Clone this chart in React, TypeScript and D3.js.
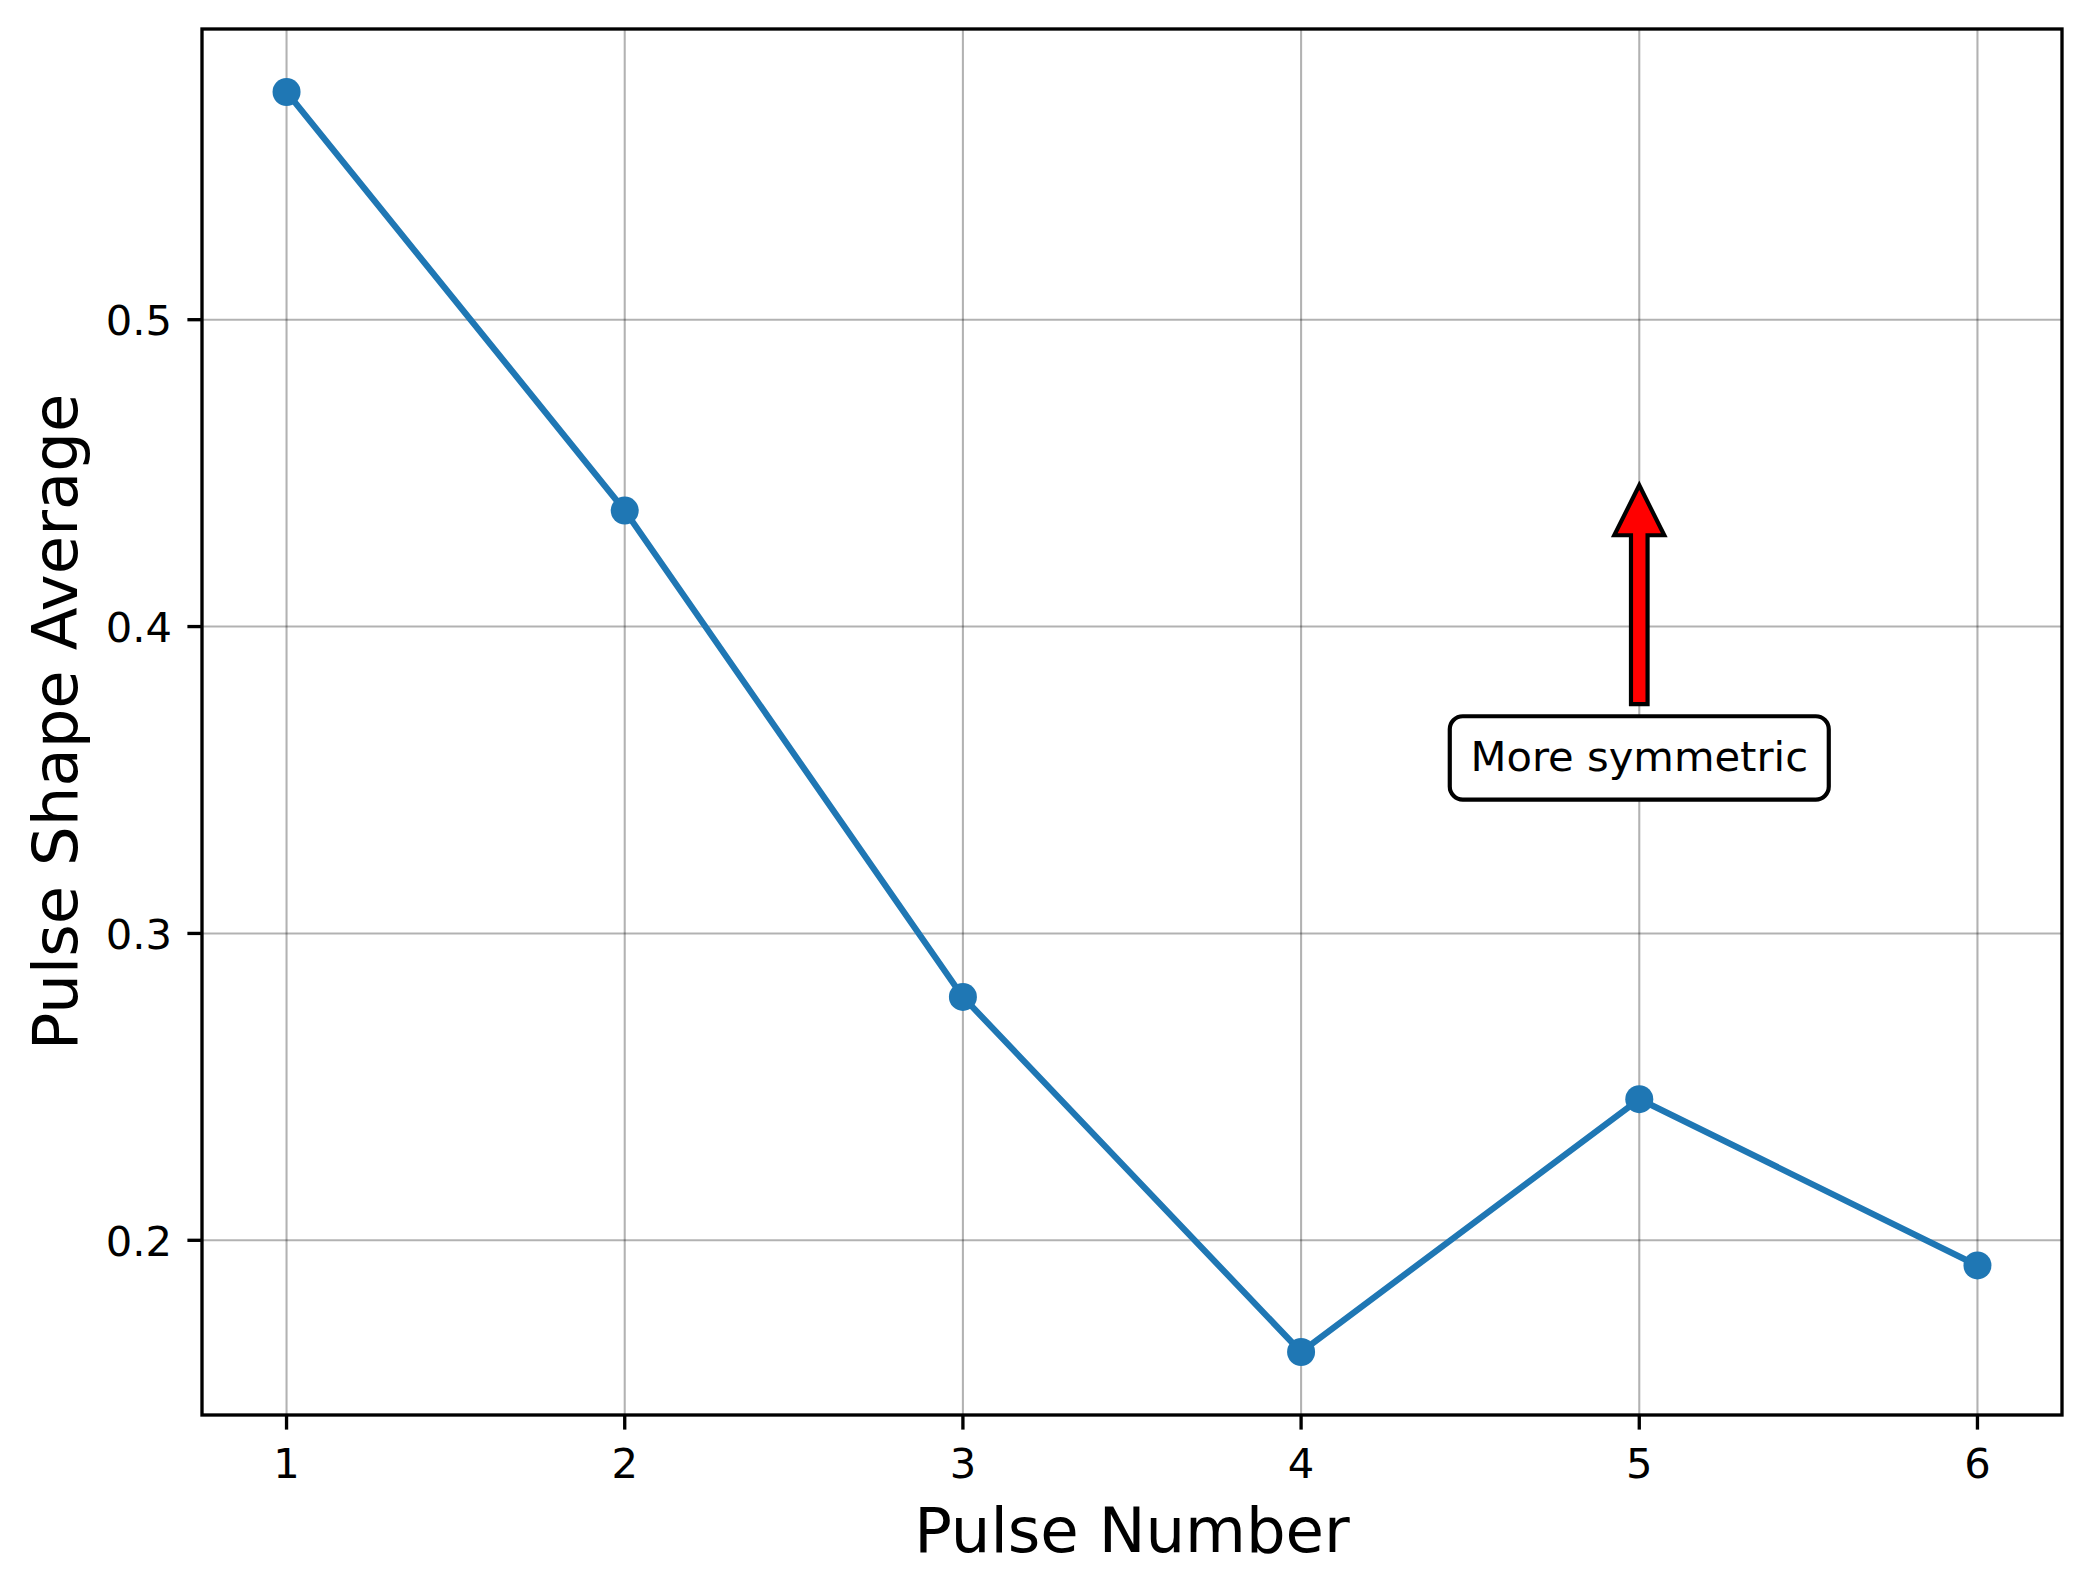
import React from "react";
import * as d3 from "d3";

const pulseNumbers = [1, 2, 3, 4, 5, 6];
const pulseShapeAverage = [0.5742, 0.4378, 0.2793, 0.1636, 0.246, 0.1918];
const xTicks = [1, 2, 3, 4, 5, 6];
const yTicks = [0.2, 0.3, 0.4, 0.5];
const annotationText = "More symmetric";
const annotationX = 5;
const arrowTipValue = 0.45;
const textCenterValue = 0.3572;

const W = 2092;
const H = 1593;
const left = 202;
const right = 2062;
const top = 29;
const bottom = 1415;

export default function App() {
  const x = d3.scaleLinear().domain([0.75, 6.25]).range([left, right]);
  const yMin = d3.min(pulseShapeAverage)!;
  const yMax = d3.max(pulseShapeAverage)!;
  const m = (yMax - yMin) * 0.05;
  const y = d3.scaleLinear().domain([yMin - m, yMax + m]).range([bottom, top]);

  const line = d3
    .line<number>()
    .x((_, i) => x(pulseNumbers[i]))
    .y((d) => y(d));

  const fs = 41.67;
  const font = "DejaVu Sans";
  const tickLen = 14.6;
  const sw = 3.33;

  // annotation geometry
  const ax = x(annotationX);
  const tcY = y(textCenterValue);
  const boxW = 379;
  const boxH = 83.3;
  const boxTop = tcY - boxH / 2;
  const xyY = y(arrowTipValue);
  const len = boxTop - xyY;
  const tipY = xyY + len * 0.05;
  const tailY = boxTop - len * 0.05;
  const shaftHalf = 8.3;
  const headHalf = 25;
  const headLen = 50;
  const arrowPts = [
    [ax, tipY],
    [ax + headHalf, tipY + headLen],
    [ax + shaftHalf, tipY + headLen],
    [ax + shaftHalf, tailY],
    [ax - shaftHalf, tailY],
    [ax - shaftHalf, tipY + headLen],
    [ax - headHalf, tipY + headLen],
  ]
    .map((p) => p.join(","))
    .join(" ");

  return (
    <svg
      width={W}
      height={H}
      style={{ position: "absolute", left: 0, top: 0, background: "#fff" }}
      fontFamily={font}
    >
      <rect x={0} y={0} width={W} height={H} fill="#fff" />
      {/* grid */}
      <g stroke="rgba(0,0,0,0.3)" strokeWidth={2.08}>
        {xTicks.map((t) => (
          <line key={"gx" + t} x1={x(t)} x2={x(t)} y1={top} y2={bottom} />
        ))}
        {yTicks.map((t) => (
          <line key={"gy" + t} x1={left} x2={right} y1={y(t)} y2={y(t)} />
        ))}
      </g>
      {/* data line */}
      <path
        d={line(pulseShapeAverage) || ""}
        fill="none"
        stroke="#1f77b4"
        strokeWidth={6.25}
        strokeLinejoin="round"
        strokeLinecap="square"
      />
      {pulseShapeAverage.map((v, i) => (
        <circle key={i} cx={x(pulseNumbers[i])} cy={y(v)} r={14} fill="#1f77b4" />
      ))}
      {/* annotation */}
      <polygon
        points={arrowPts}
        fill="#ff0000"
        stroke="#000"
        strokeWidth={4.17}
        strokeLinejoin="miter"
      />
      <rect
        x={ax - boxW / 2}
        y={boxTop}
        width={boxW}
        height={boxH}
        rx={13}
        ry={13}
        fill="#fff"
        stroke="#000"
        strokeWidth={4.17}
      />
      <text x={ax} y={tcY + 13.5} fontSize={fs} textAnchor="middle" fill="#000">
        {annotationText}
      </text>
      {/* spines */}
      <rect
        x={left}
        y={top}
        width={right - left}
        height={bottom - top}
        fill="none"
        stroke="#000"
        strokeWidth={sw}
        strokeLinejoin="miter"
      />
      {/* x ticks */}
      {xTicks.map((t) => (
        <g key={"xt" + t}>
          <line x1={x(t)} x2={x(t)} y1={bottom} y2={bottom + tickLen} stroke="#000" strokeWidth={sw} />
          <text x={x(t)} y={1478} fontSize={fs} textAnchor="middle" fill="#000">
            {String(t)}
          </text>
        </g>
      ))}
      {/* y ticks */}
      {yTicks.map((t) => (
        <g key={"yt" + t}>
          <line x1={left - tickLen} x2={left} y1={y(t)} y2={y(t)} stroke="#000" strokeWidth={sw} />
          <text x={172} y={y(t) + 15.2} fontSize={fs} textAnchor="end" fill="#000">
            {d3.format(".1f")(t)}
          </text>
        </g>
      ))}
      {/* axis labels */}
      <text x={(left + right) / 2} y={1552} fontSize={62.5} textAnchor="middle" fill="#000">
        Pulse Number
      </text>
      <text
        transform={`translate(77,${(top + bottom) / 2}) rotate(-90)`}
        fontSize={62.5}
        textAnchor="middle"
        fill="#000"
      >
        Pulse Shape Average
      </text>
    </svg>
  );
}
